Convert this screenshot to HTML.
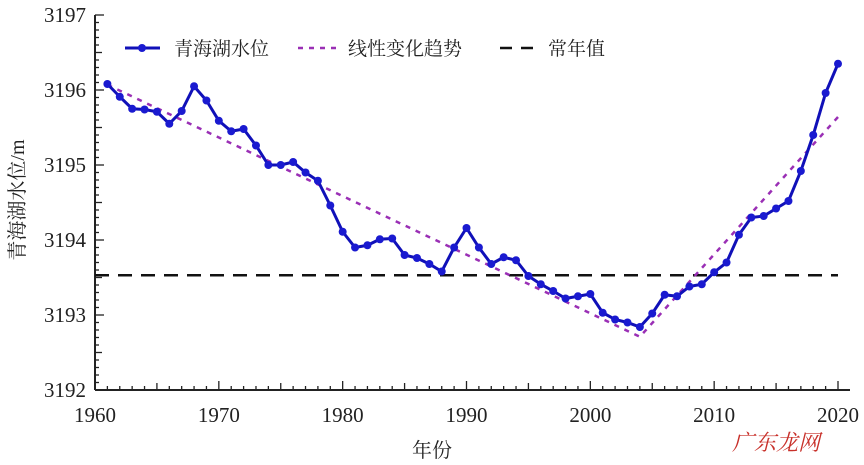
<!DOCTYPE html>
<html><head><meta charset="utf-8"><style>
html,body{margin:0;padding:0;background:#fff;}
svg{display:block;font-family:"Liberation Serif","Noto Serif CJK SC",serif;}
</style></head><body>
<svg id="chart" width="864" height="465" xmlns="http://www.w3.org/2000/svg"></svg>
<script>
const years = [1961,1962,1963,1964,1965,1966,1967,1968,1969,1970,1971,1972,1973,1974,1975,1976,1977,1978,1979,1980,1981,1982,1983,1984,1985,1986,1987,1988,1989,1990,1991,1992,1993,1994,1995,1996,1997,1998,1999,2000,2001,2002,2003,2004,2005,2006,2007,2008,2009,2010,2011,2012,2013,2014,2015,2016,2017,2018,2019,2020];
const levels = [3196.08,3195.91,3195.75,3195.74,3195.71,3195.55,3195.72,3196.05,3195.86,3195.59,3195.45,3195.48,3195.26,3195.0,3195.0,3195.04,3194.9,3194.79,3194.46,3194.11,3193.90,3193.93,3194.01,3194.02,3193.8,3193.76,3193.68,3193.58,3193.9,3194.16,3193.9,3193.68,3193.77,3193.73,3193.52,3193.41,3193.32,3193.22,3193.25,3193.28,3193.03,3192.94,3192.90,3192.84,3193.02,3193.27,3193.25,3193.38,3193.41,3193.57,3193.70,3194.07,3194.30,3194.32,3194.42,3194.52,3194.92,3195.40,3195.96,3196.35];
const trendYears = [1961,2004,2020];
const trendValues = [3196.07,3192.71,3195.64];
const normalValue = 3193.53;
const xTicks = [1960,1970,1980,1990,2000,2010,2020];
const yTicks = [3192,3193,3194,3195,3196,3197];

const NS="http://www.w3.org/2000/svg";
const svg=document.getElementById('chart');
const X0=95,X1=838,Y0=390,Y1=15;
const xs=v=>X0+(v-1960)/(2020-1960)*(X1-X0);
const ys=v=>Y0-(v-3192)/(3197-3192)*(Y0-Y1);
function mk(tag,attrs,parent){const e=document.createElementNS(NS,tag);for(const k in attrs)e.setAttribute(k,attrs[k]);(parent||svg).appendChild(e);return e;}

// axes
const axes=mk('g',{});


mk('line',{x1:X0,y1:Y0,x2:X1+12,y2:Y0,stroke:'#222','stroke-width':2},axes);
mk('line',{x1:X0,y1:Y0,x2:X0,y2:Y1,stroke:'#222','stroke-width':2},axes);
for(let yr=1960;yr<=2020;yr++){const x=xs(yr);const L=(yr%10===0)?9:(yr%5===0?7:4);mk('line',{x1:x,y1:Y0,x2:x,y2:Y0-L,stroke:'#222','stroke-width':1.3},axes);}
for(let i=0;i<=50;i++){const v=3192+i*0.1;const y=ys(v);const L=(i%10===0)?9:(i%5===0?7:4);mk('line',{x1:X0,y1:y,x2:X0+L,y2:y,stroke:'#222','stroke-width':1.3},axes);}
xTicks.forEach(t=>{const e=mk('text',{x:xs(t),y:Y0+32,'text-anchor':'middle','font-size':21,fill:'#222'});e.textContent=t;

});
yTicks.forEach(t=>{const e=mk('text',{x:X0-9,y:ys(t)+7,'text-anchor':'end','font-size':21,fill:'#222'});e.textContent=t;

});
const xt=mk('text',{x:432,y:457,'text-anchor':'middle','font-size':20,fill:'#222'});xt.textContent='年份';


const yt=mk('text',{x:0,y:0,'text-anchor':'middle','font-size':20,fill:'#222',transform:'translate(24,200) rotate(-90)'});yt.textContent='青海湖水位/m';



// normal line
const nl=mk('line',{x1:X0,y1:ys(normalValue),x2:X1,y2:ys(normalValue),stroke:'#111','stroke-width':2.5,'stroke-dasharray':'14,9'});


// trend
const tp=mk('polyline',{points:trendYears.map((y,i)=>xs(y)+','+ys(trendValues[i])).join(' '),fill:'none',stroke:'#9a2fb5','stroke-width':2.5,'stroke-dasharray':'5,6'});


// series
const sl=mk('polyline',{points:years.map((y,i)=>xs(y)+','+ys(levels[i])).join(' '),fill:'none',stroke:'#1010b8','stroke-width':3});


years.forEach((y,i)=>{const c=mk('circle',{cx:xs(y),cy:ys(levels[i]),r:4,fill:'#1a1ad0'});

});

// legend
const lg=mk('g',{});


mk('line',{x1:125,y1:48,x2:160,y2:48,stroke:'#1010b8','stroke-width':3},lg);
mk('circle',{cx:142,cy:48,r:4,fill:'#1a1ad0'},lg);
let t=mk('text',{x:174,y:55,'font-size':19,fill:'#222'},lg);t.textContent='青海湖水位';
mk('line',{x1:298,y1:48,x2:336,y2:48,stroke:'#9a2fb5','stroke-width':2.5,'stroke-dasharray':'5,6'},lg);
t=mk('text',{x:348,y:55,'font-size':19,fill:'#222'},lg);t.textContent='线性变化趋势';
mk('line',{x1:500,y1:48,x2:536,y2:48,stroke:'#111','stroke-width':2.5,'stroke-dasharray':'12,9'},lg);
t=mk('text',{x:548,y:55,'font-size':19,fill:'#222'},lg);t.textContent='常年值';
const wm=mk('text',{x:732,y:450,'font-size':22,fill:'#c8302a','font-style':'italic'});wm.textContent='广东龙网';


</script>
</body></html>
